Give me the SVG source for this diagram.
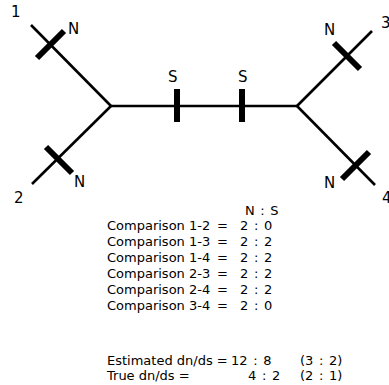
<svg xmlns="http://www.w3.org/2000/svg" width="389" height="385" viewBox="0 0 389 385">
<style>
.br{stroke:#000;stroke-width:2.6;fill:none;stroke-linecap:butt}
.tk{stroke:#000;stroke-width:6;fill:none}
.lb{font-family:"DejaVu Sans","Liberation Sans",sans-serif;font-size:15px;fill:#000}
.tx{font-family:"DejaVu Sans","Liberation Sans",sans-serif;font-size:13px;fill:#000;white-space:pre}
.v{word-spacing:1.5px}
</style>
<rect width="389" height="385" fill="#fff"/>
<g id="connectors">
<line class="br" x1="31" y1="25" x2="111" y2="106"/>
<line class="br" x1="32" y1="184" x2="111" y2="106"/>
<line class="br" x1="111" y1="106" x2="297" y2="106"/>
<line class="br" x1="297" y1="106" x2="372" y2="31"/>
<line class="br" x1="297" y1="106" x2="375" y2="185"/>
</g>
<g id="ticks">
<line class="tk" x1="37" y1="58" x2="64" y2="31"/>
<line class="tk" x1="46" y1="147" x2="72" y2="173"/>
<line class="tk" x1="177" y1="89" x2="177" y2="122"/>
<line class="tk" x1="242" y1="89" x2="242" y2="122"/>
<line class="tk" x1="334" y1="43" x2="360" y2="69"/>
<line class="tk" x1="342" y1="179" x2="369" y2="152"/>
</g>
<g id="leaf1"><text class="lb" x="11" y="17">1</text><text class="lb" x="68" y="34">N</text></g>
<g id="leaf2"><text class="lb" x="14" y="203">2</text><text class="lb" x="74" y="187">N</text></g>
<g id="leaf3"><text class="lb" x="381" y="28">3</text><text class="lb" x="324" y="35">N</text></g>
<g id="leaf4"><text class="lb" x="382" y="203">4</text><text class="lb" x="324" y="188">N</text></g>
<g id="sites"><text class="lb" x="168" y="82">S</text><text class="lb" x="238" y="82">S</text></g>
<g id="table">
<text class="tx v" x="245" y="215">N : S</text>
<text class="tx" x="107" y="230">Comparison 1-2</text><text class="tx" x="217" y="230">=</text><text class="tx v" x="240" y="230">2 : 0</text>
<text class="tx" x="107" y="246">Comparison 1-3</text><text class="tx" x="217" y="246">=</text><text class="tx v" x="240" y="246">2 : 2</text>
<text class="tx" x="107" y="262">Comparison 1-4</text><text class="tx" x="217" y="262">=</text><text class="tx v" x="240" y="262">2 : 2</text>
<text class="tx" x="107" y="278">Comparison 2-3</text><text class="tx" x="217" y="278">=</text><text class="tx v" x="240" y="278">2 : 2</text>
<text class="tx" x="107" y="294">Comparison 2-4</text><text class="tx" x="217" y="294">=</text><text class="tx v" x="240" y="294">2 : 2</text>
<text class="tx" x="107" y="310">Comparison 3-4</text><text class="tx" x="217" y="310">=</text><text class="tx v" x="240" y="310">2 : 0</text>
<text class="tx" x="107" y="365">Estimated dn/ds =</text><text class="tx v" x="231" y="365">12 : 8</text><text class="tx v" x="300" y="365">(3 : 2)</text>
<text class="tx" x="107" y="380">True dn/ds =</text><text class="tx v" x="248" y="380">4 : 2</text><text class="tx v" x="300" y="380">(2 : 1)</text>
</g>
</svg>
